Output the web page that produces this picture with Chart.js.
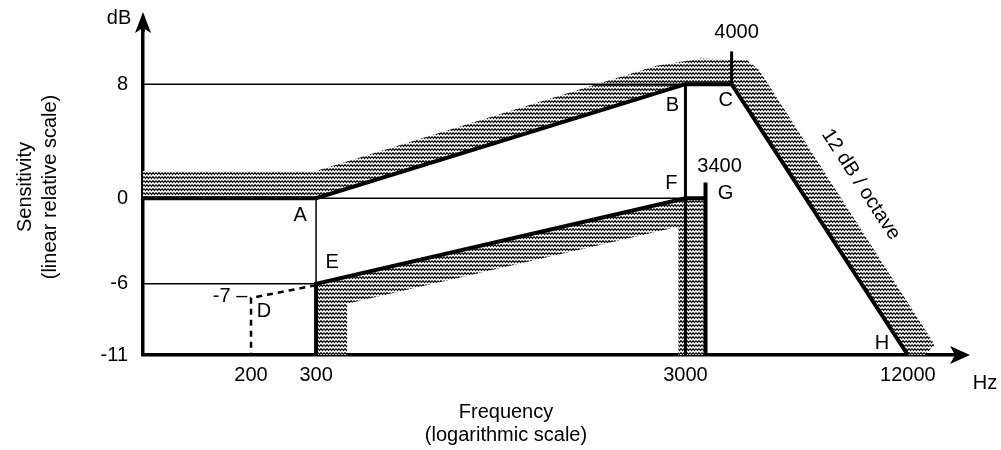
<!DOCTYPE html>
<html>
<head>
<meta charset="utf-8">
<script src="https://cdn.jsdelivr.net/npm/chart.js@4.4.1/dist/chart.umd.min.js"></script>
<style>
  html, body { margin: 0; padding: 0; background: #fff; }
</style>
</head>
<body>
<canvas id="chart" width="1001" height="450"></canvas>
<script>
// axis ticks
const freqTicks = [200, 300, 3000, 12000];
const dbTicks = [-11, -6, 0, 8];

// sending mask A - B - C - H (Hz / dB)
const sendMaskHz = [102, 300, 3000, 4000, 12000];
const sendMaskDb = [0, 0, 8, 8, -11];

// receiving mask E - F - G
const recvMaskHz = [300, 300, 3000, 3400];
const recvMaskDb = [-11, -6, 0, 0];
const recvCutHz = [3400, 3400];
const recvCutDb = [-11, 1.1];

// dashed branch through D
const dashHz = [300, 200, 200];
const dashDb = [-6.1, -7, -11];

// thin guide lines
const guide8Hz = [102, 3000];
const guide8Db = [8, 8];
const guide0Hz = [300, 3000];
const guide0Db = [0, 0];
const guideM6Hz = [102, 300];
const guideM6Db = [-6, -6];
const guideAHz = [300, 300];
const guideADb = [0, -6];
const line3000Hz = [3000, 3000];
const line3000Db = [8, -11];
const line4000Hz = [4000, 4000];
const line4000Db = [8, 10.3];

// shaded tolerance bands
const sendBandHz = [102, 300, 2500, 3300, 4400, 4750, 14200, 13300, 12000, 4000, 3000, 300, 102];
const sendBandDb = [1.9, 1.9, 9.3, 9.8, 9.7, 9.0, -10.3, -11, -11, 8, 8, 0, 0];
const recvBandHz = [300, 300, 3000, 3400, 3400, 2870, 2870, 364, 364];
const recvBandDb = [-11, -6, 0, 0, -11, -11, -2.0, -7.4, -11];

const FONT = '"Liberation Sans", Arial, Helvetica, sans-serif';

function pts(xs, ys) {
  return xs.map((x, i) => ({ x: x, y: ys[i] }));
}

// small wavy tile, repeated to imitate the printed stipple
function makeStipple() {
  const c = document.createElement("canvas");
  c.width = 6;
  c.height = 4;
  const g = c.getContext("2d");
  g.fillStyle = "#fff";
  g.fillRect(0, 0, 6, 4);
  g.strokeStyle = "#000";
  g.lineWidth = 1.2;
  g.beginPath();
  g.moveTo(0, 0.6);
  g.lineTo(1.5, 2.6);
  g.lineTo(3, 0.6);
  g.lineTo(4.5, 2.6);
  g.lineTo(6, 0.6);
  g.stroke();
  return g.createPattern(c, "repeat");
}

const stipple = makeStipple();

function band(xs, ys) {
  return {
    data: pts(xs, ys),
    fill: "shape",
    backgroundColor: stipple,
    borderWidth: 0,
    borderColor: "rgba(0,0,0,0)",
    pointRadius: 0,
    order: 2,
  };
}

function stroke(xs, ys, width, dash) {
  return {
    data: pts(xs, ys),
    fill: false,
    borderColor: "#000",
    borderWidth: width,
    borderDash: dash || [],
    borderCapStyle: "butt",
    borderJoinStyle: "miter",
    pointRadius: 0,
    tension: 0,
    order: 1,
  };
}

// labels for points, arrows and axis names
const notes = [
  ["A", 300, 0, -16, 17],
  ["E", 300, -6, 16, -21],
  ["D", 200, -7, 13, 14],
  ["-7 \u2013", 200, -7, -21, -1],
  ["B", 3000, 8, -13, 21],
  ["C", 4000, 8, -6, 16],
  ["4000", 4000, 8, 5, -52],
  ["3400", 3400, 0, 14, -32],
  ["F", 3000, 0, -14, -15],
  ["G", 3400, 0, 20, -5],
  ["H", 12000, -11, -26, -12],
];

const decorPlugin = {
  id: "decor",
  afterDraw(chart) {
    const { ctx, chartArea, scales } = chart;
    const xs = scales.x;
    const ys = scales.y;
    const left = chartArea.left;
    const bottom = chartArea.bottom;
    ctx.save();
    ctx.fillStyle = "#000";
    ctx.strokeStyle = "#000";

    // axis arrows
    ctx.lineWidth = 3.5;
    ctx.beginPath();
    ctx.moveTo(left, chartArea.top + 2);
    ctx.lineTo(left, 24);
    ctx.stroke();
    ctx.beginPath();
    ctx.moveTo(left, 12);
    ctx.lineTo(left - 8, 33);
    ctx.lineTo(left, 28);
    ctx.lineTo(left + 8, 33);
    ctx.closePath();
    ctx.fill();

    const r = chartArea.right;
    ctx.beginPath();
    ctx.moveTo(r + 15, bottom);
    ctx.lineTo(r - 5, bottom - 9);
    ctx.lineTo(r, bottom);
    ctx.lineTo(r - 5, bottom + 9);
    ctx.closePath();
    ctx.fill();

    ctx.font = "20px " + FONT;
    ctx.textAlign = "center";
    ctx.textBaseline = "middle";
    notes.forEach(([t, hz, db, dx, dy]) => {
      ctx.fillText(t, xs.getPixelForValue(hz) + dx, ys.getPixelForValue(db) + dy);
    });

    ctx.fillText("dB", left - 24, 18);
    ctx.fillText("Hz", r + 30, bottom + 28);

    // slope note along C-H
    const cx = xs.getPixelForValue(4000);
    const cy = ys.getPixelForValue(8);
    const hx = xs.getPixelForValue(12000);
    const hy = ys.getPixelForValue(-11);
    ctx.save();
    ctx.translate((cx + hx) / 2 + 41, (cy + hy) / 2 - 35);
    ctx.rotate(Math.atan2(hy - cy, hx - cx));
    ctx.fillText("12 dB / octave", 0, 0);
    ctx.restore();

    // axis titles
    ctx.fillText("Frequency", 506, 412);
    ctx.fillText("(logarithmic scale)", 506, 435);
    ctx.save();
    ctx.translate(25, 187);
    ctx.rotate(-Math.PI / 2);
    ctx.fillText("Sensitivity", 0, 0);
    ctx.fillText("(linear relative scale)", 0, 25);
    ctx.restore();

    ctx.restore();
  },
};

new Chart(document.getElementById("chart"), {
  type: "line",
  data: {
    datasets: [
      band(sendBandHz, sendBandDb),
      band(recvBandHz, recvBandDb),
      stroke(guide8Hz, guide8Db, 1.5),
      stroke(guide0Hz, guide0Db, 1.5),
      stroke(guideM6Hz, guideM6Db, 1.5),
      stroke(guideAHz, guideADb, 1.5),
      stroke(line3000Hz, line3000Db, 3),
      stroke(line4000Hz, line4000Db, 3),
      stroke(dashHz, dashDb, 2.5, [6, 5]),
      stroke(recvCutHz, recvCutDb, 4),
      stroke(recvMaskHz, recvMaskDb, 4),
      stroke(sendMaskHz, sendMaskDb, 4),
    ],
  },
  options: {
    responsive: false,
    animation: false,
    layout: { padding: { top: 30, right: 46, left: 0, bottom: 0 } },
    plugins: {
      legend: { display: false },
      tooltip: { enabled: false },
    },
    scales: {
      x: {
        type: "logarithmic",
        min: 102,
        max: 16100,
        grid: { display: false, drawTicks: false },
        border: { display: true, color: "#000", width: 3.5 },
        afterBuildTicks: (scale) => {
          scale.ticks = freqTicks.map((v) => ({ value: v }));
        },
        afterFit: (scale) => {
          scale.height = 95;
        },
        ticks: {
          padding: 8,
          color: "#000",
          font: { family: FONT, size: 20 },
          maxRotation: 0,
          autoSkip: false,
          callback: (v) => String(v),
        },
      },
      y: {
        type: "linear",
        min: -11,
        max: 11.8,
        grid: { display: false, drawTicks: false },
        border: { display: true, color: "#000", width: 3.5 },
        afterBuildTicks: (scale) => {
          scale.ticks = dbTicks.map((v) => ({ value: v }));
        },
        afterFit: (scale) => {
          scale.width = 143;
        },
        ticks: {
          padding: 15,
          color: "#000",
          font: { family: FONT, size: 20 },
          callback: (v) => String(v),
        },
      },
    },
  },
  plugins: [decorPlugin],
});
</script>
</body>
</html>
